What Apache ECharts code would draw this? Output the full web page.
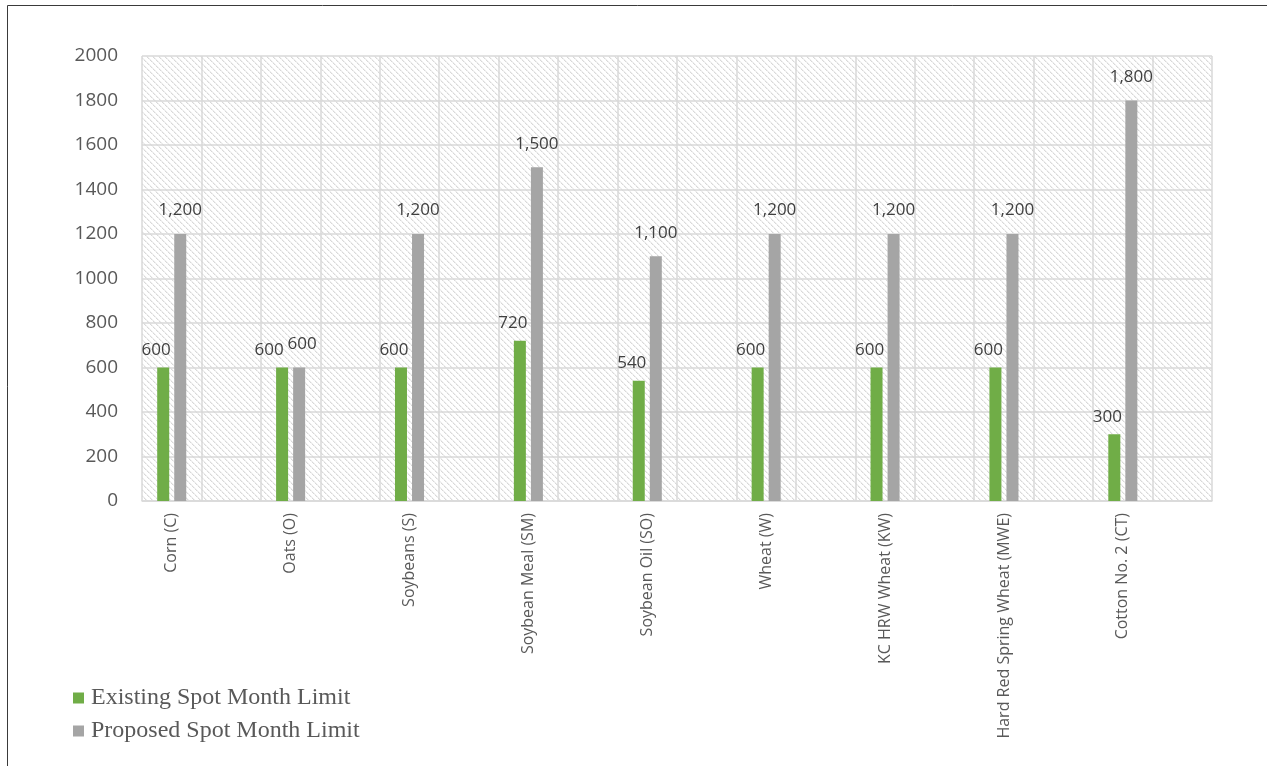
<!DOCTYPE html>
<html>
<head>
<meta charset="utf-8">
<script src="https://cdn.jsdelivr.net/npm/echarts@6/dist/echarts.min.js"></script>
<style>
  html, body { margin: 0; padding: 0; background: #fff; }
  #chart { width: 1267px; height: 766px; }
</style>
</head>
<body>
<div id="chart"></div>
<script>
// Commodity contracts and their spot month limits
const categories = [
  'Corn (C)', 'Oats (O)', 'Soybeans (S)', 'Soybean Meal (SM)', 'Soybean Oil (SO)',
  'Wheat (W)', 'KC HRW Wheat (KW)', 'Hard Red Spring Wheat (MWE)', 'Cotton No. 2 (CT)'
];
const existingLimit = [600, 600, 600, 720, 540, 600, 600, 600, 300];
const proposedLimit = [1200, 600, 1200, 1500, 1100, 1200, 1200, 1200, 1800];
const seriesNames = ['Existing Spot Month Limit', 'Proposed Spot Month Limit'];
const yTicks = { min: 0, max: 2000, step: 200 };

// Each contract is followed by an empty slot, so the bars sit in the left half
const slots = [];
const existingSlots = [];
const proposedSlots = [];
categories.forEach((c, i) => {
  slots.push(c, '');
  // Equal values would print on top of each other: nudge those labels apart
  const tie = existingLimit[i] === proposedLimit[i];
  existingSlots.push(tie ? { value: existingLimit[i], label: { offset: [-13, 0] } } : existingLimit[i], null);
  proposedSlots.push(tie ? { value: proposedLimit[i], label: { offset: [3, 0] } } : proposedLimit[i], null);
});

// Light diagonal hatch for the plot background
function hatchTile() {
  const s = 6;
  const cv = document.createElement('canvas');
  cv.width = s; cv.height = s;
  const ctx = cv.getContext('2d');
  ctx.fillStyle = '#ffffff';
  ctx.fillRect(0, 0, s, s);
  for (let y = 0; y < s; y++) {
    for (let x = 0; x < s; x++) {
      const d = ((x - y) % s + s) % s;
      if (d === 0) { ctx.fillStyle = (y % 3 === 2) ? '#eeeeee' : '#d9d9d9'; ctx.fillRect(x, y, 1, 1); }
      else if (d === 1) { ctx.fillStyle = '#efefef'; ctx.fillRect(x, y, 1, 1); }
    }
  }
  return cv;
}

const fmt = v => (v == null ? '' : Number(v).toLocaleString('en-US'));

const chart = echarts.init(document.getElementById('chart'), null, { renderer: 'canvas' });
chart.setOption({
  backgroundColor: '#ffffff',
  animation: false,
  graphic: [{
    type: 'rect',
    shape: { x: 7.5, y: 5.5, width: 1300, height: 800 },
    style: { fill: 'none', stroke: '#3a3a3a', lineWidth: 1 },
    silent: true,
    z: 100
  }],
  grid: {
    left: 142, top: 56, width: 1070, height: 445,
    show: true,
    borderWidth: 0,
    backgroundColor: { image: hatchTile(), repeat: 'repeat' }
  },
  legend: {
    orient: 'vertical',
    left: 73, top: 686,
    padding: 0,
    itemWidth: 11, itemHeight: 11,
    itemGap: 9,
    icon: 'rect',
    textStyle: { fontFamily: 'Liberation Serif', fontSize: 24, color: '#595959', padding: [0, 0, 0, 2] },
    data: seriesNames
  },
  xAxis: {
    type: 'category',
    data: slots,
    boundaryGap: true,
    axisLine: { show: true, lineStyle: { color: '#d9d9d9', width: 1.5 } },
    axisTick: { show: false },
    splitLine: { show: true, interval: 0, lineStyle: { color: '#d9d9d9', width: 1.5 } },
    axisLabel: {
      interval: 0, rotate: 90, margin: 12,
      fontFamily: 'Open Sans', fontSize: 16, color: '#595959'
    }
  },
  yAxis: {
    type: 'value',
    min: yTicks.min, max: yTicks.max, interval: yTicks.step,
    axisLine: { show: false },
    axisTick: { show: false },
    splitLine: { show: true, lineStyle: { color: '#d9d9d9', width: 1.5 } },
    axisLabel: {
      margin: 24, fontFamily: 'Open Sans', fontSize: 19, color: '#595959',
      formatter: v => String(v)
    }
  },
  series: [
    {
      name: seriesNames[0], type: 'bar', data: existingSlots,
      barWidth: 12, barGap: '42%',
      itemStyle: { color: '#70ad47' },
      label: {
        show: true, position: 'top', distance: 9, offset: [-7, 0],
        formatter: p => fmt(p.value),
        fontFamily: 'Open Sans', fontSize: 17, color: '#404040'
      }
    },
    {
      name: seriesNames[1], type: 'bar', data: proposedSlots,
      barWidth: 12,
      itemStyle: { color: '#a5a5a5' },
      label: {
        show: true, position: 'top', distance: 15, offset: [0, 0],
        formatter: p => fmt(p.value),
        fontFamily: 'Open Sans', fontSize: 17, color: '#404040'
      }
    }
  ]
});
</script>
</body>
</html>
